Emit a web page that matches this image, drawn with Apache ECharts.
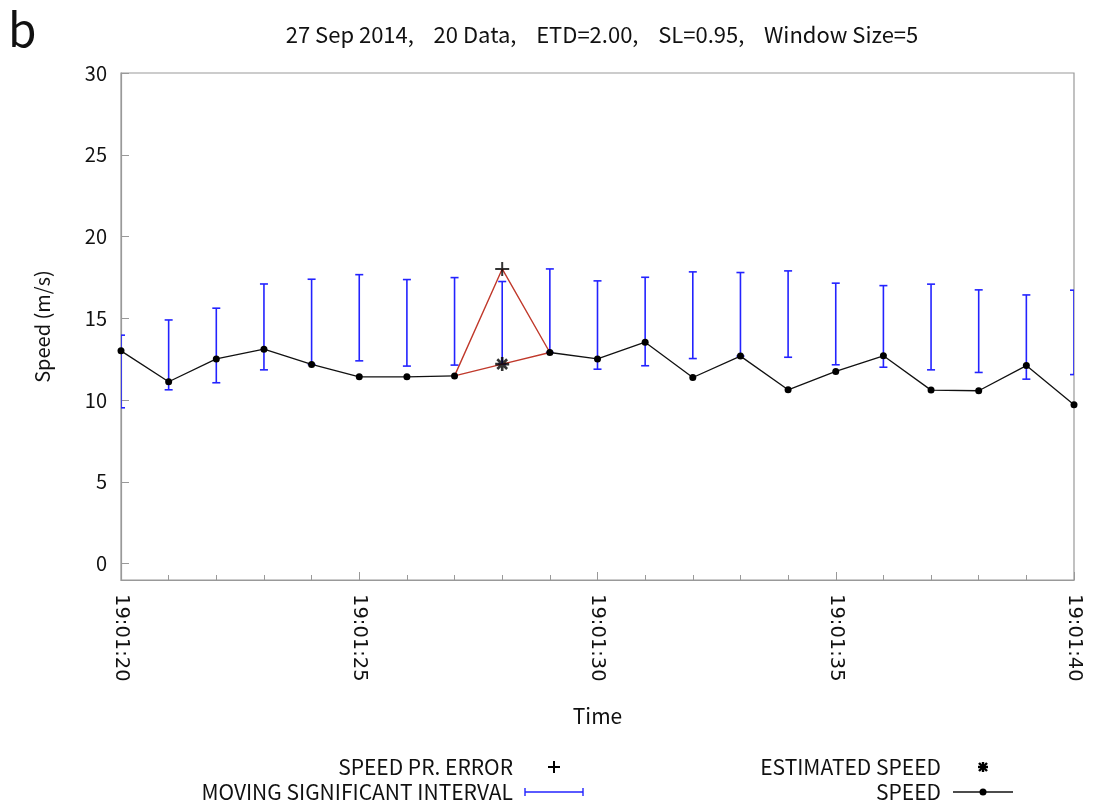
<!DOCTYPE html>
<html>
<head>
<meta charset="utf-8">
<script src="https://cdn.jsdelivr.net/npm/echarts@6/dist/echarts.min.js"></script>
<style>
html,body{margin:0;padding:0;background:#fff;}
#chart{width:1094px;height:804px;}
</style>
</head>
<body>
<div id="chart"></div>
<script>
// ---- data (seconds after 19:01:20) ----
const seconds = [0,1,2,3,4,5,6,7,8,9,10,11,12,13,14,15,16,17,18,19,20];
const speed = [13.01, 11.12, 12.52, 13.11, 12.18, 11.42, 11.42, 11.48, null, 12.91, 12.52, 13.54, 11.38, 12.69, 10.63, 11.75, 12.71, 10.61, 10.57, 12.11, 9.71];
const intervalLow = [9.53, 10.63, 11.06, 11.85, 12.18, 12.40, 12.08, 12.14, 12.20, 12.91, 11.89, 12.10, 12.54, 12.69, 12.62, 12.16, 12.01, 11.85, 11.69, 11.28, 11.56];
const intervalHigh = [13.97, 14.90, 15.62, 17.10, 17.39, 17.67, 17.37, 17.49, 17.25, 18.02, 17.29, 17.51, 17.84, 17.80, 17.90, 17.15, 17.00, 17.09, 16.74, 16.43, 16.72];
const errorSecond = [8];
const errorSpeed = [18.02];
const estimatedSpeed = [12.20];
const timePrefix = '19:01:';
const startSecond = 20;
const titleText = '27 Sep 2014,    20 Data,    ETD=2.00,    SL=0.95,    Window Size=5';

// ---- build series data ----
const speedData = seconds.map((s, i) => [s, speed[i] === null ? '-' : speed[i]]);
const intervalData = seconds.map((s, i) => [s, intervalLow[i], intervalHigh[i]]);
const ei = errorSecond[0];
const prevIdx = ei - 1, nextIdx = ei + 1;
const errorPath = [[seconds[prevIdx], speed[prevIdx]], [errorSecond[0], errorSpeed[0]], [seconds[nextIdx], speed[nextIdx]]];
const estPath = [[seconds[prevIdx], speed[prevIdx]], [errorSecond[0], estimatedSpeed[0]], [seconds[nextIdx], speed[nextIdx]]];

const FONT = '"Noto Sans CJK KR", "Noto Sans", sans-serif';
const BLUE = '#2323ff';
const RED = '#c0392b';
const PLUS = 'path://M0,-10L0,10M-10,0L10,0';
const STAR = 'path://M0,-10L0,10M-10,0L10,0M-7,-7L7,7M-7,7L7,-7';

const chart = echarts.init(document.getElementById('chart'), null, {renderer: 'canvas'});

const option = {
  backgroundColor: '#ffffff',
  animation: false,
  title: [
    {text: 'b', left: 3, top: 2, textStyle: {fontFamily: FONT, fontSize: 46, fontWeight: 'normal', color: '#111'}},
    {text: titleText, left: 597, top: 19, textAlign: 'center',
     textStyle: {fontFamily: FONT, fontSize: 22, fontWeight: 'normal', color: '#111'}}
  ],
  grid: {left: 121, right: 20, top: 73, bottom: 224, show: true, borderColor: '#999', borderWidth: 1.2, backgroundColor: 'transparent'},
  xAxis: {
    type: 'value', min: 0, max: 20, interval: 5,
    name: 'Time', nameLocation: 'middle', nameGap: 126,
    nameTextStyle: {fontFamily: FONT, fontSize: 21, color: '#111'},
    axisLine: {show: true, onZero: false, lineStyle: {color: '#999', width: 1.2}},
    axisTick: {show: true, inside: true, length: 8, lineStyle: {color: '#999'}},
    minorTick: {show: true, splitNumber: 5, length: 5, lineStyle: {color: '#999'}},
    splitLine: {show: false},
    axisLabel: {rotate: -90, margin: 14, fontFamily: 'DejaVu Sans', fontSize: 19.5, color: '#111',
      formatter: v => timePrefix + (startSecond + v)}
  },
  yAxis: {
    type: 'value', min: -1, max: 30, splitNumber: 6,
    name: 'Speed (m/s)', nameLocation: 'middle', nameGap: 69,
    nameTextStyle: {fontFamily: FONT, fontSize: 20, color: '#111'},
    axisLine: {show: true, lineStyle: {color: '#999', width: 1.2}},
    axisTick: {show: true, inside: true, length: 8, lineStyle: {color: '#999'}},
    splitLine: {show: false},
    axisLabel: {showMinLabel: false, margin: 14, fontFamily: FONT, fontSize: 20, color: '#111',
      formatter: v => (v < 0 ? '' : String(v))}
  },
  series: [
    {
      name: 'MOVING SIGNIFICANT INTERVAL', type: 'custom', clip: true, z: 2,
      data: intervalData,
      renderItem: function (params, api) {
        const x = api.value(0), lo = api.value(1), hi = api.value(2);
        const a = api.coord([x, lo]), b = api.coord([x, hi]);
        const w = 4;
        const st = {stroke: BLUE, lineWidth: 1.6};
        return {type: 'group', children: [
          {type: 'line', shape: {x1: a[0], y1: a[1], x2: b[0], y2: b[1]}, style: st},
          {type: 'line', shape: {x1: a[0] - w, y1: a[1], x2: a[0] + w, y2: a[1]}, style: st},
          {type: 'line', shape: {x1: b[0] - w, y1: b[1], x2: b[0] + w, y2: b[1]}, style: st}
        ]};
      }
    },
    {
      name: 'SPEED PR. ERROR path', type: 'line', data: errorPath, z: 3,
      symbol: 'none', lineStyle: {color: RED, width: 1.4}, itemStyle: {color: RED}
    },
    {
      name: 'ESTIMATED SPEED path', type: 'line', data: estPath, z: 3,
      symbol: 'none', lineStyle: {color: RED, width: 1.4}, itemStyle: {color: RED}
    },
    {
      name: 'SPEED', type: 'line', data: speedData, z: 4, connectNulls: false,
      symbol: 'circle', symbolSize: 7,
      lineStyle: {color: '#111', width: 1.3}, itemStyle: {color: '#000'}
    },
    {
      name: 'SPEED PR. ERROR', type: 'scatter', z: 5,
      data: errorSecond.map((s, i) => [s, errorSpeed[i]]),
      symbol: PLUS, symbolSize: 14,
      itemStyle: {color: 'none', borderColor: '#000', borderWidth: 2}
    },
    {
      name: 'ESTIMATED SPEED', type: 'scatter', z: 5,
      data: errorSecond.map((s, i) => [s, estimatedSpeed[i]]),
      symbol: STAR, symbolSize: 14,
      itemStyle: {color: 'none', borderColor: '#000', borderWidth: 2.6}
    }
  ],
  graphic: [
    // legend
    {type: 'text', x: 513, y: 767, style: {text: 'SPEED PR. ERROR', font: '21px ' + FONT, fill: '#111', align: 'right', verticalAlign: 'middle'}},
    {type: 'group', x: 554, y: 767, children: [
      {type: 'line', shape: {x1: -6, y1: 0, x2: 6, y2: 0}, style: {stroke: '#000', lineWidth: 2}},
      {type: 'line', shape: {x1: 0, y1: -6, x2: 0, y2: 6}, style: {stroke: '#000', lineWidth: 2}}
    ]},
    {type: 'text', x: 513, y: 792, style: {text: 'MOVING SIGNIFICANT INTERVAL', font: '21px ' + FONT, fill: '#111', align: 'right', verticalAlign: 'middle'}},
    {type: 'group', x: 525, y: 792, children: [
      {type: 'line', shape: {x1: 0, y1: 0, x2: 58, y2: 0}, style: {stroke: BLUE, lineWidth: 1.4}},
      {type: 'line', shape: {x1: 0, y1: -4, x2: 0, y2: 4}, style: {stroke: BLUE, lineWidth: 1.4}},
      {type: 'line', shape: {x1: 58, y1: -4, x2: 58, y2: 4}, style: {stroke: BLUE, lineWidth: 1.4}}
    ]},
    {type: 'text', x: 941, y: 767, style: {text: 'ESTIMATED SPEED', font: '21px ' + FONT, fill: '#111', align: 'right', verticalAlign: 'middle'}},
    {type: 'group', x: 983, y: 767, children: [
      {type: 'line', shape: {x1: -5, y1: 0, x2: 5, y2: 0}, style: {stroke: '#000', lineWidth: 2.4}},
      {type: 'line', shape: {x1: 0, y1: -5, x2: 0, y2: 5}, style: {stroke: '#000', lineWidth: 2.4}},
      {type: 'line', shape: {x1: -4, y1: -4, x2: 4, y2: 4}, style: {stroke: '#000', lineWidth: 2.4}},
      {type: 'line', shape: {x1: -4, y1: 4, x2: 4, y2: -4}, style: {stroke: '#000', lineWidth: 2.4}}
    ]},
    {type: 'text', x: 941, y: 792, style: {text: 'SPEED', font: '21px ' + FONT, fill: '#111', align: 'right', verticalAlign: 'middle'}},
    {type: 'group', x: 953, y: 792, children: [
      {type: 'line', shape: {x1: 0, y1: 0, x2: 60, y2: 0}, style: {stroke: '#111', lineWidth: 1.3}},
      {type: 'circle', shape: {cx: 30, cy: 0, r: 3.5}, style: {fill: '#000'}}
    ]}
  ]
};
chart.setOption(option);
</script>
</body>
</html>
